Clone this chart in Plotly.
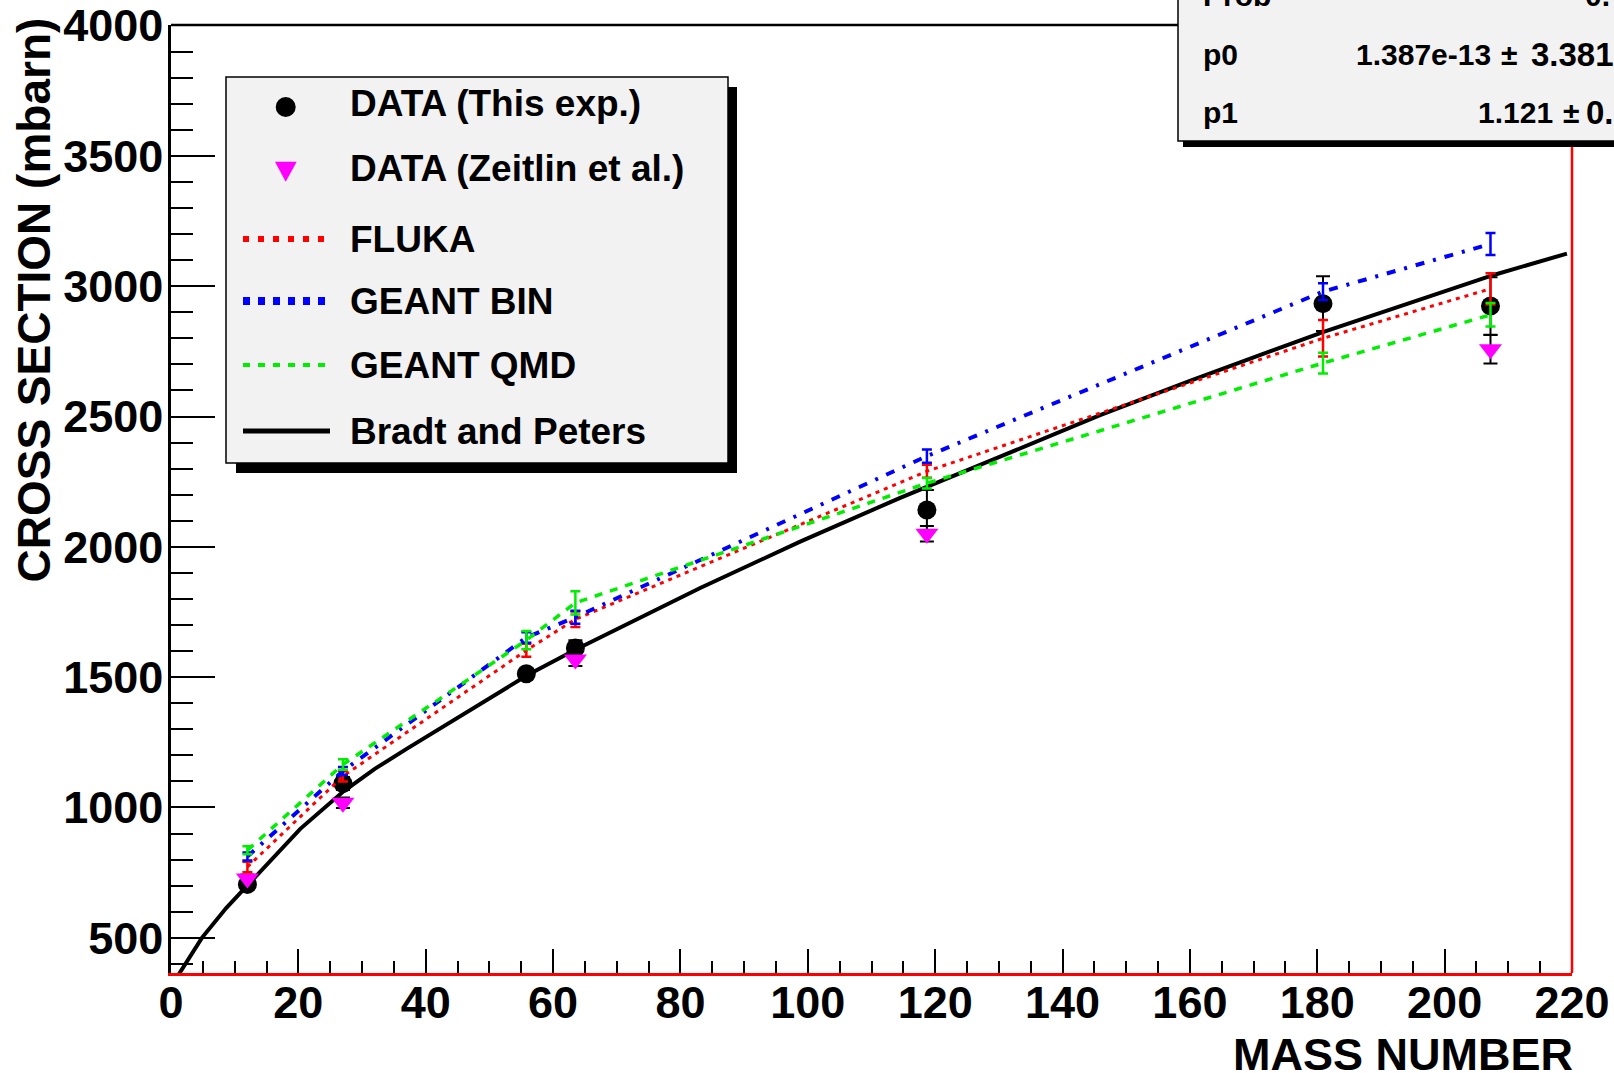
import plotly.graph_objects as go

# ---------------------------------------------------------------
# Total reaction cross sections vs. target mass number
# ---------------------------------------------------------------

# Measured targets: C, Al, Fe, Cu, Sn, Ta, Pb
mass_this = [12.0, 27.0, 55.8, 63.5, 118.7, 180.9, 207.2]
sigma_this = [705, 1092, 1513, 1612, 2141, 2933, 2924]
err_this = [20, 25, 20, 30, 77, 105, 110]

# Zeitlin et al. data (C, Al, Cu, Sn, Pb)
mass_zeitlin = [12.0, 27.0, 63.5, 118.7, 207.2]
sigma_zeitlin = [728, 1018, 1568, 2050, 2758]
err_zeitlin = [15, 20, 25, 30, 55]

# Model predictions at the measured targets
mass_model = [12.0, 27.0, 55.8, 63.5, 118.7, 180.9, 207.2]
sigma_fluka = [772, 1120, 1603, 1722, 2290, 2800, 2990]
err_fluka = [20, 20, 25, 30, 25, 70, 60]
sigma_bin = [812, 1140, 1652, 1730, 2348, 2979, 3162]
err_bin = [15, 15, 20, 25, 25, 32, 42]
sigma_qmd = [836, 1165, 1642, 1785, 2244, 2705, 2890]
err_qmd = [15, 20, 35, 45, 20, 40, 45]

# Bradt and Peters fitted curve, sampled along A
mass_bp = [1.15, 4.85, 8.7, 12.0, 20.3, 27.1, 32.0, 37.0, 45.0, 56.0,
           63.5, 67.4, 75.2, 83.1, 98.8, 114.5, 130.2, 145.9, 160.0,
           181.0, 207.7, 219.2]
sigma_bp = [357, 500, 615, 702, 918, 1062, 1148, 1225, 1345, 1508,
            1605, 1652, 1748, 1842, 2020, 2188, 2346, 2505, 2637,
            2825, 3043, 3125]

x_ticks = list(range(0, 221, 20))
y_ticks = list(range(500, 4001, 500))

legend_labels = ["DATA (This exp.)", "DATA (Zeitlin et al.)", "FLUKA",
                 "GEANT BIN", "GEANT QMD", "Bradt and Peters"]
# fit statistics: name, value, error (the box runs off the page edge)
stats_names = ["Prob", "p0", "p1"]
stats_values = ["", "1.387e-13", "1.121"]
stats_errors = ["0.", "3.381", "0."]

# ---------------------------------------------------------------
W, H = 1614, 1073
ML, MR, MT, MB = 171, 42, 25, 100
FONT = "Liberation Sans"


def px(x):
    return (x - ML) / (W - ML - MR)


def py(y):
    return 1 - (y - MT) / (H - MT - MB)


fig = go.Figure()

fig.add_trace(go.Scatter(
    x=mass_bp, y=sigma_bp, mode="lines",
    line=dict(color="black", width=4), name=legend_labels[5]))

fig.add_trace(go.Scatter(
    x=mass_this, y=sigma_this, mode="markers", name=legend_labels[0],
    marker=dict(symbol="circle", size=19, color="black"),
    error_y=dict(type="data", array=err_this, color="black",
                 thickness=2, width=7)))

fig.add_trace(go.Scatter(
    x=mass_zeitlin, y=sigma_zeitlin, mode="markers", name=legend_labels[1],
    marker=dict(symbol="triangle-down", size=20, color="#ff00ff"),
    error_y=dict(type="data", array=err_zeitlin, color="black",
                 thickness=2, width=7)))

fig.add_trace(go.Scatter(
    x=mass_model, y=sigma_fluka, mode="lines", name=legend_labels[2],
    line=dict(color="#ff0000", width=3, dash="4px,5px"),
    error_y=dict(type="data", array=err_fluka, color="#ff0000",
                 thickness=2.5, width=5)))

fig.add_trace(go.Scatter(
    x=mass_model, y=sigma_bin, mode="lines", name=legend_labels[3],
    line=dict(color="#0000ff", width=4, dash="9px,9px,3px,9px"),
    error_y=dict(type="data", array=err_bin, color="#0000ff",
                 thickness=2.5, width=5)))

fig.add_trace(go.Scatter(
    x=mass_model, y=sigma_qmd, mode="lines", name=legend_labels[4],
    line=dict(color="#00ee00", width=3.5, dash="8px,8px"),
    error_y=dict(type="data", array=err_qmd, color="#00ee00",
                 thickness=2.5, width=5)))

tick_font = dict(family=FONT, size=45, color="black", weight="bold")

fig.update_xaxes(
    range=[0, 220], tickvals=x_ticks, ticktext=[str(v) for v in x_ticks],
    ticks="inside", ticklen=24, tickwidth=2, tickcolor="black",
    showline=True, linecolor="#ff0000", linewidth=3, mirror=False,
    showgrid=False, zeroline=False, tickfont=tick_font,
    ticklabelstandoff=-12, automargin=False,
    minor=dict(dtick=5, tick0=0, ticks="inside", ticklen=12,
               tickwidth=2, tickcolor="black", showgrid=False))

fig.update_yaxes(
    range=[365, 4002], tickvals=y_ticks, ticktext=[str(v) for v in y_ticks],
    ticks="inside", ticklen=44, tickwidth=2, tickcolor="black",
    showline=True, linecolor="black", linewidth=2.5, mirror=False,
    showgrid=False, zeroline=False, tickfont=tick_font,
    ticklabelstandoff=-4, automargin=False,
    minor=dict(dtick=100, tick0=0, ticks="inside", ticklen=22,
               tickwidth=2, tickcolor="black", showgrid=False))

shapes = []
# frame: black top edge, red right edge
shapes.append(dict(type="line", xref="paper", yref="paper",
                   x0=0, x1=px(1179), y0=1, y1=1,
                   line=dict(color="black", width=2.5), layer="above"))
shapes.append(dict(type="line", xref="paper", yref="paper",
                   x0=1, x1=1, y0=0, y1=py(141),
                   line=dict(color="#ff0000", width=2.5), layer="above"))

# legend box with drop shadow
shapes.append(dict(type="rect", xref="paper", yref="paper",
                   x0=px(236), x1=px(737), y0=py(473), y1=py(87),
                   fillcolor="black", line=dict(width=0), layer="above"))
shapes.append(dict(type="rect", xref="paper", yref="paper",
                   x0=px(226), x1=px(728), y0=py(463), y1=py(77),
                   fillcolor="#f2f2f2", line=dict(color="black", width=1.5),
                   layer="above"))

# statistics box with drop shadow
shapes.append(dict(type="rect", xref="paper", yref="paper",
                   x0=px(1183), x1=px(1720), y0=py(147), y1=py(-60),
                   fillcolor="black", line=dict(width=0), layer="above"))
shapes.append(dict(type="rect", xref="paper", yref="paper",
                   x0=px(1178), x1=px(1720), y0=py(141), y1=py(-60),
                   fillcolor="#f2f2f2", line=dict(color="black", width=1.5),
                   layer="above"))

# legend symbols
row_y = [103, 168, 239, 301, 365, 431]
mx = 285.7
shapes.append(dict(type="circle", xref="paper", yref="paper",
                   x0=px(mx - 10), x1=px(mx + 10),
                   y0=py(row_y[0] + 4 + 10), y1=py(row_y[0] + 4 - 10),
                   fillcolor="black", line=dict(width=0), layer="above"))
tri = "M {} {} L {} {} L {} {} Z".format(
    px(275), py(161.7), px(296.7), py(161.7), px(mx), py(181.7))
shapes.append(dict(type="path", xref="paper", yref="paper", path=tri,
                   fillcolor="#ff00ff", line=dict(width=0), layer="above"))
sample_styles = [
    dict(color="#ff0000", width=6, dash="6px,9px"),
    dict(color="#0000ff", width=8, dash="7px,8px"),
    dict(color="#00ee00", width=4, dash="7px,8px"),
    dict(color="black", width=5),
]
for i, st in enumerate(sample_styles):
    yy = row_y[2 + i]
    shapes.append(dict(type="line", xref="paper", yref="paper",
                       x0=px(243), x1=px(330 if i == 3 else 327),
                       y0=py(yy), y1=py(yy), line=st, layer="above"))

annotations = []
for lab, yy in zip(legend_labels, row_y):
    annotations.append(dict(
        text=lab, xref="paper", yref="paper", x=px(348), y=py(yy),
        xanchor="left", yanchor="middle", showarrow=False,
        font=dict(family=FONT, size=37, color="black", weight="bold")))


def stat_text(text, x, y, size=30):
    return dict(text=text, xref="paper", yref="paper", x=px(x), y=py(y),
                xanchor="left", yanchor="middle", showarrow=False,
                font=dict(family=FONT, size=size, color="black",
                          weight="bold"))


stats_rows = [-5, 54, 113]
value_x = [None, 1354, 1476]
pm_x = [None, 1499, 1561]
err_x = [1583, 1529, 1584]
for i, (name, val, err, yy) in enumerate(zip(stats_names, stats_values,
                                              stats_errors, stats_rows)):
    annotations.append(stat_text(name, 1201, yy))
    if val:
        annotations.append(stat_text(val, value_x[i], yy))
        annotations.append(stat_text("\u00b1", pm_x[i], yy))
        annotations.append(stat_text(err, err_x[i], yy, size=33))
    else:
        annotations.append(stat_text(err, err_x[i], yy))

# axis titles
annotations.append(dict(
    text="MASS NUMBER", xref="paper", yref="paper", x=1, y=py(1054),
    xanchor="right", yanchor="middle", showarrow=False, xshift=3,
    font=dict(family=FONT, size=45, color="black", weight="bold")))
annotations.append(dict(
    text="CROSS SECTION (mbarn)", xref="paper", yref="paper",
    x=px(33.5), y=py(300), xanchor="center", yanchor="middle",
    textangle=-90, showarrow=False,
    font=dict(family=FONT, size=46, color="black", weight="bold")))

fig.update_layout(
    width=W, height=H, autosize=False,
    margin=dict(l=ML, r=MR, t=MT, b=MB, pad=0, autoexpand=False),
    plot_bgcolor="white", paper_bgcolor="white",
    showlegend=False, shapes=shapes, annotations=annotations,
    font=dict(family=FONT, color="black"))

fig.write_html("out.html", config={"responsive": False})
